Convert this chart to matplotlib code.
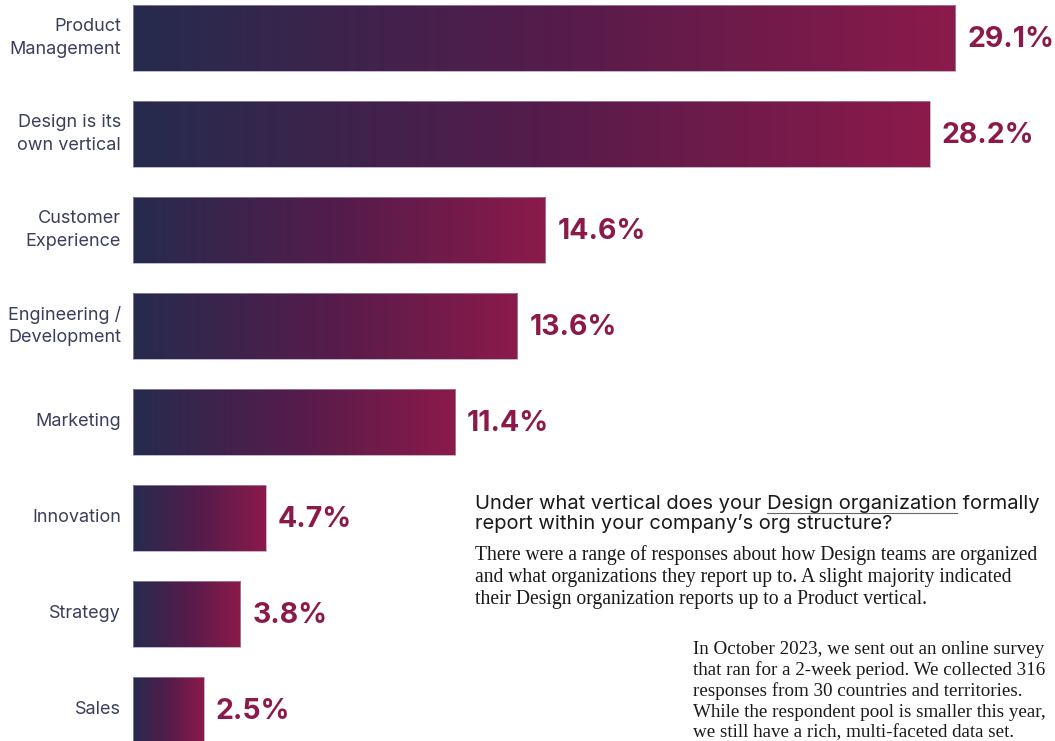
import numpy as np
import matplotlib
matplotlib.use('Agg')
import matplotlib.pyplot as plt
from matplotlib.colors import LinearSegmentedColormap

# Datos del grafico

categorias = ["Product\nManagement", "Design is its\nown vertical", "Customer\nExperience",
              "Engineering /\nDevelopment", "Marketing", "Innovation", "Strategy", "Sales"]
valores = [29.1, 28.2, 14.6, 13.6, 11.4, 4.7, 3.8, 2.5]
etiquetas = [f"{v:.1f}%" for v in valores]

titulo = ["Under what vertical does your Design organization formally",
          "report within your company\u2019s org structure?"]
subrayado = "Design organization"
texto1 = ("There were a range of responses about how Design teams are organized\n"
          "and what organizations they report up to. A slight majority indicated\n"
          "their Design organization reports up to a Product vertical.")
texto2 = ("In October 2023, we sent out an online survey\n"
          "that ran for a 2-week period. We collected 316\n"
          "responses from 30 countries and territories.\n"
          "While the respondent pool is smaller this year,\n"
          "we still have a rich, multi-faceted data set.")

# Colores

navy = '#262b4e'
crimson = '#8b1a4a'
cmap = LinearSegmentedColormap.from_list('grad', [navy, '#541c4b', crimson])

W, H = 1055, 741
fig = plt.figure(figsize=(W / 100, H / 100), dpi=100)
ax = fig.add_axes([0, 0, 1, 1])

px_per = 28.25
x0 = 133
paso = 96
c0 = 38
alto = 66 / paso
grad = np.linspace(0, 1, 256).reshape(1, -1)

for i, (cat, v, lab) in enumerate(zip(categorias, valores, etiquetas)):
    ax.imshow(grad, cmap=cmap, aspect='auto', extent=[0, v, i + alto / 2, i - alto / 2],
              interpolation='bilinear', zorder=2)
    ax.add_patch(plt.Rectangle((0, i - alto / 2), v, alto, fill=False,
                               edgecolor='#a898b4', linewidth=0.5, zorder=3))
    ax.text(v + 12 / px_per, i + 0.02, lab, ha='left', va='center', fontsize=20.5,
            fontweight='bold', color=crimson, family='Inter')
    ax.text(-12 / px_per, i, cat, ha='right', va='center', fontsize=13,
            color='#3a3f5c', family='Inter', linespacing=1.45)

ax.set_xlim(-x0 / px_per, (W - x0) / px_per)
ax.set_ylim((H - c0) / paso, -c0 / paso)
ax.axis('off')


def fx(x):
    return x / W


def fy(y):
    return 1 - y / H


# Bloque de texto

fs_t = 14.5
for k, linea in enumerate(titulo):
    fig.text(fx(475), fy(509 + 20 * k), linea, ha='left', va='baseline', fontsize=fs_t,
             color='#1a1a1a', family='Inter')
fig.text(fx(475), fy(545), texto1, ha='left', va='top', fontsize=14.1,
         color='#1a1a1a', family='Liberation Serif', linespacing=1.22)
fig.text(fx(693), fy(641), texto2, ha='left', va='top', fontsize=13.7,
         color='#1a1a1a', family='Liberation Serif', linespacing=1.24)

# Subrayado bajo "Design organization"
fig.canvas.draw()
r = fig.canvas.get_renderer()
hasta = titulo[0][:titulo[0].index(subrayado) + len(subrayado)]
tmp = fig.text(fx(475), fy(509), hasta, ha='left', va='baseline', fontsize=fs_t, family='Inter')
tmp2 = fig.text(fx(475), fy(509), subrayado, ha='left', va='baseline', fontsize=fs_t, family='Inter')
b1 = tmp.get_window_extent(r)
b2 = tmp2.get_window_extent(r)
tmp.remove()
tmp2.remove()
xfin = b1.x1
xini = b1.x1 - b2.width
yline = H - 513
fig.add_artist(plt.Line2D([xini / W, xfin / W], [yline / H, yline / H],
                          color='#666666', linewidth=0.8))

fig.savefig('out.png', dpi=100)
